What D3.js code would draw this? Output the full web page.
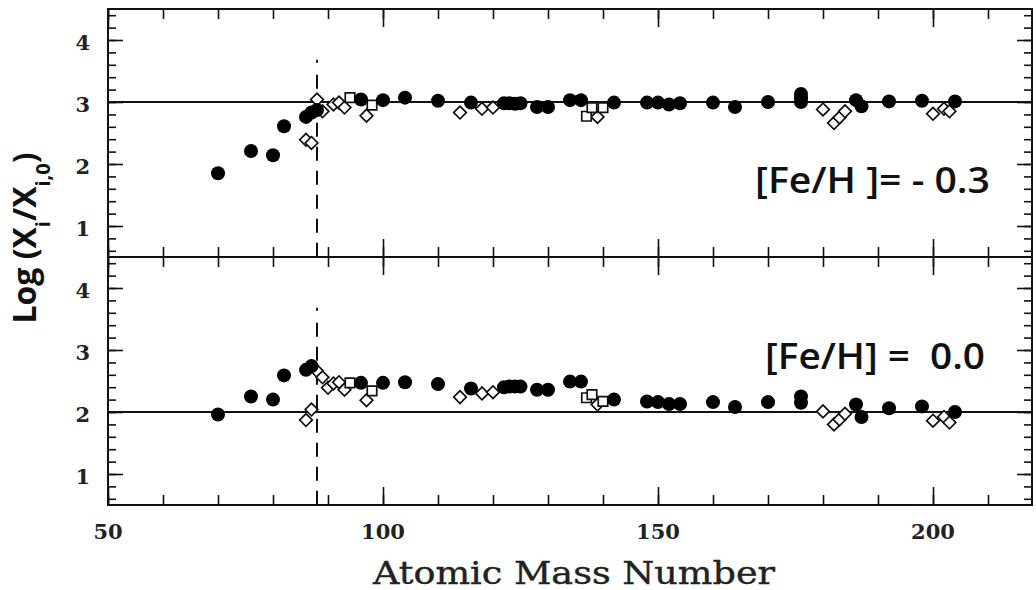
<html>
  <head>
    <style>
      body { margin: 0; background: white; }
      .frame { fill: none; stroke: #111; stroke-width: 2px; }
      .tick line { stroke: #111; stroke-width: 1.6px; }
      .tick text { font-family: "DejaVu Serif", serif; font-size: 21px; font-weight: 600; fill: #222; }
      .domain { display: none; }
    </style>
  </head>
  <body>
    <script src="https://d3js.org/d3.v7.min.js"></script>
    <script>
    // mass numbers and log overabundances
    var topFilledA = [70, 76, 80, 82, 86, 87, 88, 96, 100, 104, 110, 116, 122, 123, 124, 125, 128, 130, 134, 136, 142, 148, 150, 152, 154, 160, 164, 170, 176, 176, 176, 186, 187, 192, 198, 204];
    var topFilledY = [1.85, 2.21, 2.14, 2.61, 2.76, 2.83, 2.87, 3.04, 3.03, 3.07, 3.02, 2.99, 2.98, 2.98, 2.97, 2.98, 2.92, 2.92, 3.03, 3.03, 2.99, 2.99, 2.99, 2.96, 2.98, 2.99, 2.92, 3.00, 3.13, 3.06, 3.00, 3.03, 2.93, 3.01, 3.02, 3.01];
    var topDiamondA = [86, 87, 88, 89, 91, 92, 93, 97, 114, 118, 120, 139, 180, 182, 183, 184, 200, 202, 203];
    var topDiamondY = [2.39, 2.34, 3.04, 2.85, 2.96, 2.99, 2.91, 2.78, 2.83, 2.89, 2.91, 2.76, 2.88, 2.66, 2.75, 2.85, 2.81, 2.89, 2.85];
    var topSquareA = [94, 98, 137, 138, 140];
    var topSquareY = [3.07, 2.95, 2.77, 2.91, 2.91];

    var botFilledA = [70, 76, 80, 82, 86, 87, 96, 100, 104, 110, 116, 122, 123, 124, 125, 128, 130, 134, 136, 142, 148, 150, 152, 154, 160, 164, 170, 176, 176, 186, 187, 192, 198, 204];
    var botFilledY = [1.96, 2.25, 2.20, 2.59, 2.68, 2.74, 2.47, 2.47, 2.48, 2.45, 2.38, 2.40, 2.41, 2.41, 2.41, 2.36, 2.36, 2.49, 2.49, 2.20, 2.17, 2.16, 2.13, 2.13, 2.16, 2.08, 2.16, 2.25, 2.15, 2.12, 1.92, 2.06, 2.09, 2.00];
    var botDiamondA = [86, 87, 88, 89, 90, 91, 92, 93, 97, 114, 118, 120, 139, 180, 182, 183, 184, 200, 202, 203];
    var botDiamondY = [1.87, 2.04, 2.66, 2.56, 2.39, 2.46, 2.48, 2.36, 2.19, 2.24, 2.30, 2.32, 2.12, 2.01, 1.80, 1.88, 1.97, 1.86, 1.92, 1.83];
    var botSquareA = [94, 98, 137, 138, 140];
    var botSquareY = [2.47, 2.34, 2.23, 2.28, 2.17];

    var xMajor = [50, 100, 150, 200];
    var yMajor = [1, 2, 3, 4];
    var panelLabels = ["[Fe/H ]= - 0.3", "[Fe/H] =  0.0"];
    var refLevels = [3, 2];
    var magicA = 88;

    var width = 1036, height = 590;
    var svg = d3.select("body").append("svg")
        .attr("width", width)
        .attr("height", height);

    var x = d3.scaleLinear().domain([50, 218]).range([108, 1032]);
    var xMinor = d3.range(50, 220, 10);
    var yMinor = d3.range(6, 45, 2).map(function(d) { return d / 10; });

    function zip(a, b) { return a.map(function(v, i) { return [v, b[i]]; }); }

    var panels = [
      { top: 9, bottom: 257, filled: zip(topFilledA, topFilledY), diamonds: zip(topDiamondA, topDiamondY), squares: zip(topSquareA, topSquareY), label: panelLabels[0], ref: refLevels[0], labelY: 193, labelX: [755, 990] },
      { top: 257, bottom: 505, filled: zip(botFilledA, botFilledY), diamonds: zip(botDiamondA, botDiamondY), squares: zip(botSquareA, botSquareY), label: panelLabels[1], ref: refLevels[1], labelY: 369, labelX: [765, 985] }
    ];

    panels.forEach(function(p, pi) {
      var y = d3.scaleLinear().domain([0.5, 4.5]).range([p.bottom, p.top]);
      var g = svg.append("g");

      // ticks, all pointing inward
      g.append("g").attr("transform", "translate(0," + p.bottom + ")")
        .call(d3.axisBottom(x).tickValues(xMinor).tickSize(-10).tickFormat(""));
      g.append("g").attr("transform", "translate(0," + p.bottom + ")")
        .call(d3.axisBottom(x).tickValues(xMajor).tickSize(-18).tickFormat(""));
      g.append("g").attr("transform", "translate(0," + p.top + ")")
        .call(d3.axisTop(x).tickValues(xMinor).tickSize(-10).tickFormat(""));
      g.append("g").attr("transform", "translate(0," + p.top + ")")
        .call(d3.axisTop(x).tickValues(xMajor).tickSize(-18).tickFormat(""));
      g.append("g").attr("transform", "translate(108,0)")
        .call(d3.axisLeft(y).tickValues(yMinor).tickSize(-8).tickFormat(""));
      g.append("g").attr("transform", "translate(108,0)")
        .call(d3.axisLeft(y).tickValues(yMajor).tickSize(-15).tickPadding(18).tickFormat(d3.format("d")))
        .selectAll("text").attr("dy", "0.45em");
      g.append("g").attr("transform", "translate(1032,0)")
        .call(d3.axisRight(y).tickValues(yMinor).tickSize(-8).tickFormat(""));
      g.append("g").attr("transform", "translate(1032,0)")
        .call(d3.axisRight(y).tickValues(yMajor).tickSize(-15).tickFormat(""));

      g.append("rect").attr("class", "frame")
        .attr("x", 108).attr("y", p.top)
        .attr("width", 1032 - 108).attr("height", p.bottom - p.top);

      // reference level
      g.append("line")
        .attr("x1", 108).attr("x2", 1032)
        .attr("y1", y(p.ref)).attr("y2", y(p.ref))
        .attr("stroke", "#111").attr("stroke-width", 2);

      // N = 50 closed shell
      g.append("line")
        .attr("x1", x(magicA)).attr("x2", x(magicA))
        .attr("y1", y(3.68)).attr("y2", p.bottom)
        .attr("stroke", "#111").attr("stroke-width", 2)
        .attr("stroke-dasharray", "3,12,14,10,14,10,14,10,14,10,14,10,14,10,14,10,14,10");

      g.selectAll(".dia").data(p.diamonds).enter().append("path")
        .attr("d", d3.symbol().type(d3.symbolSquare).size(80))
        .attr("transform", function(d) { return "translate(" + x(d[0]) + "," + y(d[1]) + ") rotate(45)"; })
        .attr("fill", "white").attr("stroke", "#111").attr("stroke-width", 1.7);

      g.selectAll(".sq").data(p.squares).enter().append("path")
        .attr("d", d3.symbol().type(d3.symbolSquare).size(90))
        .attr("transform", function(d) { return "translate(" + x(d[0]) + "," + y(d[1]) + ")"; })
        .attr("fill", "white").attr("stroke", "#111").attr("stroke-width", 1.7);

      g.selectAll(".dot").data(p.filled).enter().append("circle")
        .attr("cx", function(d) { return x(d[0]); })
        .attr("cy", function(d) { return y(d[1]); })
        .attr("r", 7)
        .attr("fill", "#000");

      g.append("text")
        .attr("x", p.labelX[0]).attr("y", p.labelY)
        .attr("textLength", p.labelX[1] - p.labelX[0])
        .attr("lengthAdjust", "spacingAndGlyphs")
        .style("font-family", "'Open Sans', sans-serif")
        .style("font-weight", 600)
        .style("font-size", "36px")
        .style("white-space", "pre")
        .attr("fill", "#111")
        .text(p.label);
    });

    // x tick labels under the lower panel
    svg.append("g").selectAll("text").data(xMajor).enter().append("text")
      .attr("x", function(d) { return x(d); })
      .attr("y", 539)
      .attr("text-anchor", "middle")
      .style("font-family", "'DejaVu Serif', serif")
      .style("font-size", "21px")
      .style("font-weight", 600)
      .attr("fill", "#222")
      .text(function(d) { return d; });

    svg.append("text")
      .attr("x", 373).attr("y", 584)
      .attr("textLength", 402)
      .attr("lengthAdjust", "spacingAndGlyphs")
      .style("font-family", "'DejaVu Serif', serif")
      .style("font-size", "31px")
      .attr("fill", "#222")
      .attr("stroke", "#222").attr("stroke-width", 0.4)
      .text("Atomic Mass Number");

    var yt = svg.append("text")
      .attr("transform", "translate(36,238) rotate(-90)")
      .attr("text-anchor", "middle")
      .style("font-family", "'Open Sans', sans-serif")
      .style("font-weight", 700)
      .style("font-size", "32px")
      .attr("fill", "#111");
    yt.append("tspan").text("Log (X");
    yt.append("tspan").attr("baseline-shift", "sub").style("font-size", "20px").text("i");
    yt.append("tspan").text("/X");
    yt.append("tspan").attr("baseline-shift", "sub").style("font-size", "20px").text("i,0");
    yt.append("tspan").text(")");
    </script>
  </body>
</html>
